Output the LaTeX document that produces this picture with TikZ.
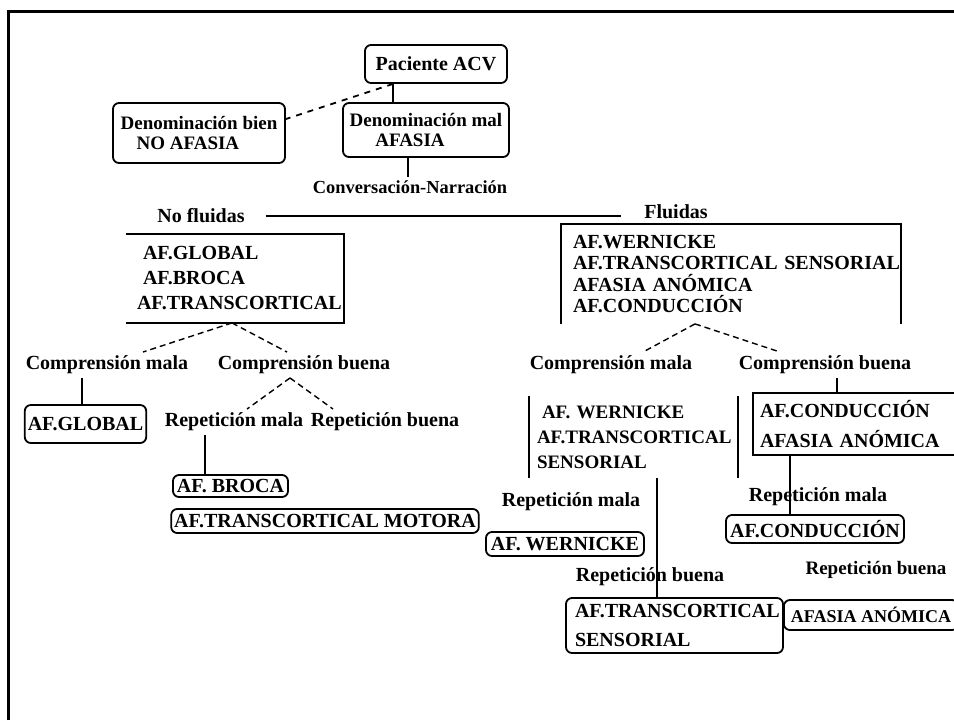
\documentclass[tikz,border=0pt]{standalone}
\usepackage{fontspec}
\setmainfont{Liberation Serif}

\begin{document}
\begin{tikzpicture}[x=0.5pt,y=-0.5pt,line width=0.9pt,
every node/.style={font=\fontsize{10}{11}\selectfont\bfseries,inner sep=1.5pt},
rbox/.style={draw,rounded corners=3pt},
lbox/.style={align=left,inner ysep=0pt},
link/.style={densely dashed,line width=0.7pt}]
\useasboundingbox (0,0) rectangle (954,720);
\clip (0,0) rectangle (954,720);
%frame of the page, only left and top are shown
\draw[line width=1.75pt] (8.5,720) -- (8.5,11.5) -- (954,11.5);

%top of the tree
\node[rbox,minimum width=71pt,minimum height=19pt] (e) at (436,64) {Paciente ACV};
\node[rbox,minimum width=86pt,minimum height=30pt,align=left,font=\fontsize{9.5}{10}\selectfont\bfseries] (1) at (199,133) {Denominación bien\\\hspace*{8pt}NO AFASIA};
\node[rbox,minimum width=83pt,minimum height=27pt,align=center,font=\fontsize{9.5}{10}\selectfont\bfseries] (2) at (426,130) {Denominación mal\\AFASIA\hspace*{16pt}};
\node[font=\fontsize{9.2}{10}\selectfont\bfseries] (21) at (410,187) {Conversación-Narración};
\node (211) at (201,216) {No fluidas};
\node (212) at (676,212) {Fluidas};

%the two lists
\node[lbox,text width=92pt,inner xsep=8pt,minimum height=43.5pt,font=\fontsize{10}{12.5}\selectfont\bfseries] (2111) at (235,278.5) {AF.GLOBAL\\AF.BROCA\\\hspace*{-3pt}AF.TRANSCORTICAL};
\node[lbox,text width=158pt,inner xsep=5.5pt,minimum height=49pt,font=\fontsize{10}{10.8}\selectfont\bfseries] (2121) at (731,274) {AF.WERNICKE\\\mbox{AF.TRANSCORTICAL SENSORIAL}\\AFASIA ANÓMICA\\AF.CONDUCCIÓN};
%lists have open sides
\draw (2111.north west) -- (2111.north east) -- (2111.south east) -- (2111.south west);
\draw (2121.south west) -- (2121.north west) -- (2121.north east) -- (2121.south east);

%no fluidas
\node (21111) at (107,365) {Comprensión mala};
\node (21112) at (304,365) {Comprensión buena};
\node[rbox,minimum width=60.5pt,minimum height=19pt] (211111) at (85.5,424) {AF.GLOBAL};
\node (211121) at (234,422) {Repetición mala};
\node (211122) at (385,422) {Repetición buena};
\node[rbox,minimum width=57.5pt,minimum height=11pt] (2111211) at (230.5,486) {AF. BROCA};
\node[rbox,minimum width=153pt,minimum height=12pt] (2111221) at (325,521) {AF.TRANSCORTICAL MOTORA};

%fluidas
\node (21211) at (611,365) {Comprensión mala};
\node (21212) at (825,365) {Comprensión buena};
\node[lbox,text width=96.5pt,inner xsep=3.5pt,minimum height=40pt,font=\fontsize{9.5}{12.5}\selectfont\bfseries] (212111) at (633.5,437) {\hspace*{2.5pt}AF. WERNICKE\\AF.TRANSCORTICAL\\SENSORIAL};
\draw (212111.north west) -- (212111.south west);
\draw (212111.north east) -- (212111.south east);
\node[draw,lbox,text width=96.5pt,inner xsep=3.5pt,minimum height=31pt,font=\fontsize{10}{15}\selectfont\bfseries] (212121) at (856.5,424) {AF.CONDUCCIÓN\\AFASIA ANÓMICA};
\node (2121111) at (571,502) {Repetición mala};
\node[rbox,minimum width=79pt,minimum height=12pt] (21211111) at (565,544) {AF. WERNICKE};
\node (2121112) at (650,577) {Repetición buena};
\node[rbox,lbox,text width=99.5pt,inner xsep=4.5pt,minimum height=27.5pt,font=\fontsize{10}{14.5}\selectfont\bfseries] (21211121) at (674.5,625.5) {AF.TRANSCORTICAL\\SENSORIAL};
\node (2121211) at (818,497) {Repetición mala};
\node[rbox,minimum width=89pt,minimum height=14pt] (21212111) at (815,529) {AF.CONDUCCIÓN};
\node[font=\fontsize{9.5}{11}\selectfont\bfseries] (2121212) at (876,570) {Repetición buena};
\node[rbox,anchor=west,inner xsep=3.5pt,minimum height=15pt,font=\fontsize{9}{11}\selectfont\bfseries] (21212121) at (783,615) {AFASIA ANÓMICA};

%solid lines go straight down to the box below
\foreach \up/\dn/\ds in {e/2/-16.5pt,2/21/-1pt,21111/211111/-1.75pt,211121/2111211/-12.75pt,
	21212/212121/-9.75pt,212111/21211121/-8.75pt,212121/21212111/-12.5pt}
	\draw ([xshift=\ds]\dn.north) -- ([xshift=\ds]\dn.north |- \up.south);
\draw[dashed] ([xshift=-21.5pt]e.south) -- ([yshift=7pt]1.east);
\draw[shorten <=8.5pt,shorten >=9.5pt] (211.east) -- (212.west |- 211.east);

%dashed lines split a box in two
\foreach \up/\us/\dn/\ds in {2111/-1.5pt/21111/18pt,2111/-1.5pt/21112/-8.5pt,
	21112/-7pt/211121/6.5pt,21112/-7pt/211122/-26pt,
	2121/-18pt/21211/16pt,2121/-18pt/21212/-22.5pt}
	\draw[link] ([xshift=\us]\up.south) -- ([xshift=\ds]\dn.north);

\end{tikzpicture}
\end{document}
